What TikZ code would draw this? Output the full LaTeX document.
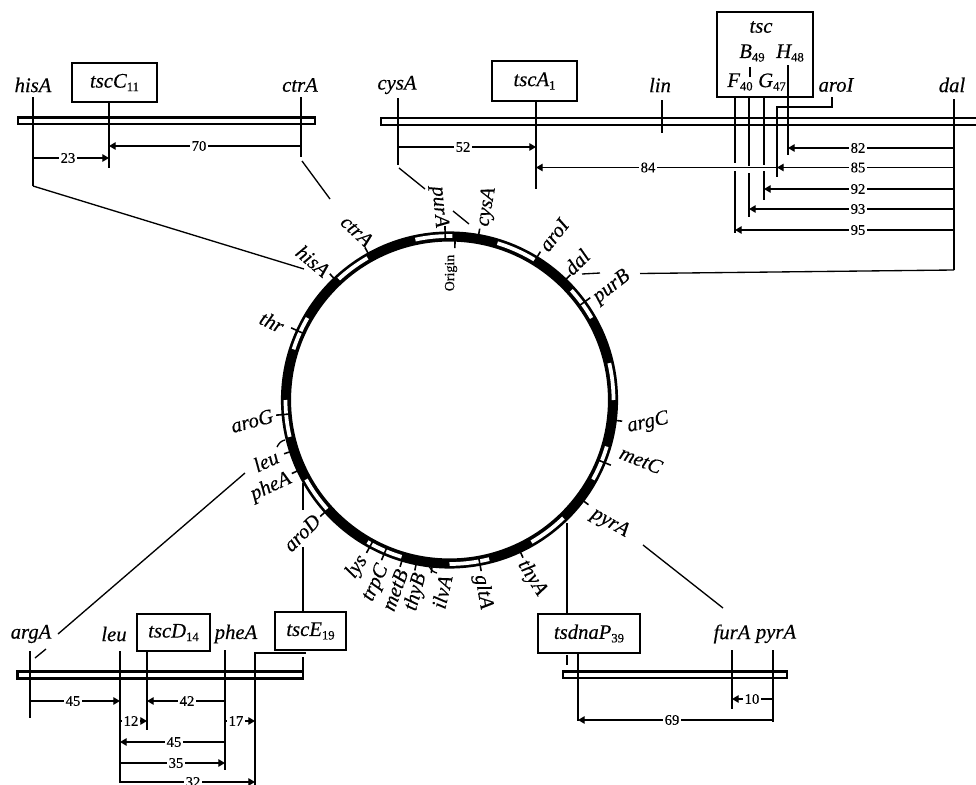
\documentclass[tikz,border=0pt]{standalone}
\usepackage{fontspec}
\setmainfont{Liberation Serif}[UprightFeatures={FakeBold=0.35},ItalicFeatures={FakeBold=0.35}]
\usetikzlibrary{arrows.meta}
\newcommand\gsub[1]{\raisebox{-2.6pt}{\fontsize{9.5}{9.5}\selectfont\upshape #1}}
\newcommand\dm[5]{\draw[dimline] (#2 |- 0,#1) -- (#3 |- 0,#1);
  \node[dimlab] (dim#1x#4) at (#4,#1) {#5};}
\newcommand\ringpt[2]{({449.5+#2*cos(#1)},{400-#2*sin(#1)})}
\tikzset{
  gn/.style={font=\fontsize{15.5}{15.5}\selectfont\itshape,inner sep=0pt},
  boxn/.style={draw,line width=1.3pt,fill=white,inner sep=0pt,font=\fontsize{15.5}{15.5}\selectfont\itshape},
  bar/.style={draw,line width=1.7pt,fill=white},
  gline/.style={line width=1.5pt},
  lead/.style={line width=1pt},
  dimline/.style={line width=0.95pt,-{Triangle[length=5pt,width=5.6pt]}},
  dimlab/.style={fill=white,inner sep=1pt,font=\fontsize{11}{11}\selectfont},
  tick/.style={line width=1.2pt}
}
\begin{document}
\begin{tikzpicture}[x=0.75pt,y=-0.75pt]
\useasboundingbox (0,0) rectangle (976,785);
\clip (0,0) rectangle (976,785);
\fill[white] (0,0) rectangle (976,785);

% ---- ring
\draw[line width=7.6pt] (449.5,400) circle[radius=163.5];
\foreach \a/\b in {89/102,58.5/73,120/132.5,150/162,30/42,0/13,-29/-16.5,-60/-46,-90/-76,-120/-107,209/222,180/193}
  \draw[white,line width=2.8pt] plot[domain=\a:\b,samples=16] ({449.5+164*cos(\x)},{400-164*sin(\x)});
% ticks through the ring
\foreach \a in {91.5,80,58.5,46,36,119,133.5,155.5,185,198,205,222,-118.5,-113,-106.5,-101.5,-96,-79.5,-65,-37,-22,-7}
  \draw[tick] \ringpt{\a}{160} -- \ringpt{\a}{174};
\draw[tick] \ringpt{88}{168} -- \ringpt{88}{152};
\draw[lead] (277,447) .. controls (279,443) and (281,441) .. (285,440);
\draw[lead] (429,566) .. controls (431,570) and (433,572) .. (437,573);

% ---- ring labels
\node[gn,rotate=-85] (lpurA) at (439,207) {purA};
\node[gn,rotate=80] (lcysA) at (487,207) {cysA};
\node[gn,rotate=52] (laroI) at (554,235) {aroI};
\node[gn,rotate=45] (ldal) at (577,262) {dal};
\node[gn,rotate=38] (lpurB) at (612,287) {purB};
\node[gn,rotate=-43] (lctrA) at (357,231) {ctrA};
\node[gn,rotate=-40] (lhisA) at (313,261) {hisA};
\node[gn,rotate=-25] (lthr) at (272,322) {thr};
\node[gn,rotate=15] (laroG) at (252,421) {aroG};
\node[gn,rotate=25] (lleu) at (266,461) {leu};
\node[gn,rotate=25] (lpheA) at (271,487) {pheA};
\node[gn,rotate=45] (laroD) at (302,533) {aroD};
\node[gn,rotate=55] (llys) at (357,567) {lys};
\node[gn,rotate=65] (ltrpC) at (376,583) {trpC};
\node[gn,rotate=70] (lmetB) at (395,590) {metB};
\node[gn,rotate=75] (lthyB) at (416,592) {thyB};
\node[gn,rotate=77] (lilvA) at (442,592) {ilvA};
\node[gn,rotate=-80] (lgltA) at (483,592) {gltA};
\node[gn,rotate=-58] (lthyA) at (532,578) {thyA};
\node[gn,rotate=-30] (lpyrA) at (610,523) {pyrA};
\node[gn,rotate=-22] (lmetC) at (641,460) {metC};
\node[gn,rotate=12] (largC) at (648,423) {argC};
\node[rotate=90,inner sep=0pt,font=\fontsize{10.5}{10.5}\selectfont] (lorigin) at (451,273) {Origin};

% ---- top-left map
\draw[bar] (18,117.5) rectangle (315,124);
\node[gn] (thisA) at (33,85) {hisA};
\node[gn] (tctrA) at (300,85) {ctrA};
\node[boxn,minimum width=63.75pt,minimum height=29.25pt] (tscC) at (114.5,82.5) {tscC\gsub{11}};
\coordinate (hisAup) at (33,97); \coordinate (hisAlow) at (33,186);
\coordinate (ctrAup) at (301,97); \coordinate (ctrAlow) at (301,157);
\coordinate (tscClow) at (109,168);
\draw[gline] (hisAup) -- (hisAlow);
\draw[gline] (ctrAup) -- (ctrAlow);
\draw[gline] (tscClow |- tscC.south) -- (tscClow);
\coordinate (hisAend) at (304,269);
\draw[lead] (hisAlow) -- (hisAend);
\coordinate (ctrAa) at (302,161); \coordinate (ctrAb) at (330,199);
\draw[lead] (ctrAa) -- (ctrAb);
\dm{146}{ctrAup}{tscClow}{199}{70}
\dm{158}{hisAup}{tscClow}{68}{23}

% ---- top-right map
\fill[white] (381,118) rectangle (985,125);
\draw[line width=1.7pt] (985,118) -- (381,118) -- (381,125) -- (985,125);
\node[gn] (tcysA) at (397,85) {cysA};
\node[gn] (tlin) at (660,85) {lin};
\node[gn] (taroI) at (836,85) {aroI};
\node[gn] (tdal) at (952,85) {dal};
\node[boxn,minimum width=63.75pt,minimum height=30pt] (tscA) at (534.5,81) {tscA\gsub{1}};
\node[boxn,minimum width=72pt,minimum height=63.75pt] (tscbox) at (765,54.5) {};
\node[gn] (tsctxt) at (761,27) {tsc};
\node[gn] (tB) at (752,53) {B\gsub{49}};
\node[gn] (tH) at (790,53) {H\gsub{48}};
\node[gn] (tF) at (740,82) {F\gsub{40}};
\node[gn] (tG) at (772,82) {G\gsub{47}};
\coordinate (cysAup) at (398,98); \coordinate (cysAlow) at (398,165);
\coordinate (tscAlow) at (536,189);
\coordinate (linup) at (662,100); \coordinate (linlow) at (662,133);
\coordinate (dalup) at (954,99); \coordinate (dallow) at (954,270);
\coordinate (Hup) at (788,65); \coordinate (Hlow) at (788,155);
\coordinate (Flow) at (735,233); \coordinate (Blow) at (749,217); \coordinate (Glow) at (764,200);
\coordinate (aroIa) at (832,97); \coordinate (aroIb) at (832,107);
\coordinate (aroIc) at (777,107); \coordinate (aroId) at (777,177);
\draw[gline] (cysAup) -- (cysAlow);
\draw[gline] (tscAlow |- tscA.south) -- (tscAlow);
\draw[gline] (linup) -- (linlow);
\draw[gline] (dalup) -- (dallow);
\draw[gline] (Hup) -- (Hlow);
\draw[gline] (aroIa) -- (aroIb) -- (aroIc) -- (aroId);
\draw[gline] (Flow |- tscbox.south) -- (Flow |- 0,163);
\draw[gline] (Flow |- 0,171) -- (Flow);
\draw[gline] (Blow |- tscbox.south) -- (Blow |- 0,166);
\draw[gline] (Blow |- 0,173) -- (Blow);
\draw[gline] (Glow |- tscbox.south) -- (Glow |- 0,165);
\draw[gline] (Glow |- 0,171) -- (Glow);
\draw[line width=1pt] (750,67) -- (750,77);
\dm{147}{cysAup}{tscAlow}{463}{52}
\dm{167.5}{aroId}{tscAlow}{648}{84}
\dm{148}{dalup}{Hlow}{858}{82}
\dm{167.5}{dalup}{aroId}{858}{85}
\dm{189}{dalup}{Glow}{858}{92}
\dm{209}{dalup}{Blow}{858}{93}
\dm{230}{dalup}{Flow}{858}{95}
\coordinate (dalb) at (640,273.5);
\draw[lead] (dallow) -- (dalb);
\coordinate (purBa) at (582,274); \coordinate (purBb) at (600,273);
\draw[lead] (purBa) -- (purBb);
\coordinate (cysa) at (399,168); \coordinate (cysb) at (425,189);
\draw[lead] (cysa) -- (cysb);
\coordinate (cysc) at (453,211); \coordinate (cysd) at (469,224);
\draw[lead] (cysc) -- (cysd);

% ---- bottom-left map
\draw[bar] (17.5,671.5) rectangle (303,678.5);
\node[gn] (bargA) at (31,634) {argA};
\node[gn] (bleu) at (114,634) {leu};
\node[gn] (bpheA) at (236,634) {pheA};
\node[boxn,minimum width=54.75pt,minimum height=27.75pt] (tscD) at (173.5,632.5) {tscD\gsub{14}};
\node[boxn,minimum width=53.25pt,minimum height=28.5pt] (tscE) at (310.5,631) {tscE\gsub{19}};
\coordinate (argup) at (30,651); \coordinate (arglow) at (30,718);
\coordinate (leuup) at (120,651); \coordinate (leulow) at (120,783);
\coordinate (tscDlow) at (147,730);
\coordinate (pheup) at (225,650); \coordinate (phelow) at (225,770);
\coordinate (Ea) at (306,653); \coordinate (Eb) at (255,653); \coordinate (Ec) at (255,790);
\draw[gline] (argup) -- (arglow);
\draw[gline] (leuup) -- (leulow);
\draw[gline] (tscDlow |- tscD.south) -- (tscDlow);
\draw[gline] (pheup) -- (phelow);
\draw[gline] (Ea) -- (Eb) -- (Ec);
\coordinate (Ed) at (303,657); \coordinate (Ee) at (303,671);
\draw[lead] (Ed) -- (Ee);
\coordinate (ro1) at (303,483); \coordinate (ro2) at (303,510); \coordinate (ro3) at (303,547);
\draw[lead] (ro1) -- (ro2);
\draw[lead] (ro3) -- (ro3 |- tscE.north);
\coordinate (ar1) at (35,658); \coordinate (ar2) at (46,649);
\coordinate (ar3) at (58,634); \coordinate (ar4) at (245,473);
\draw[lead] (ar1) -- (ar2);
\draw[lead] (ar3) -- (ar4);
\dm{701}{argup}{leuup}{73}{45}
\dm{701}{pheup}{tscDlow}{187}{42}
\dm{721}{leuup}{tscDlow}{131}{12}
\dm{721}{pheup}{Eb}{236}{17}
\dm{742}{pheup}{leuup}{174}{45}
\dm{763}{leuup}{pheup}{176}{35}
\dm{782}{leuup}{Eb}{193}{32}

% ---- bottom-right map
\draw[bar] (563,671.5) rectangle (787,678);
\node[gn] (bfurA) at (732,634) {furA};
\node[gn] (bpyrA) at (776,634) {pyrA};
\node[boxn,minimum width=76.5pt,minimum height=29.25pt] (tsdna) at (589,633.5) {tsdnaP\gsub{39}};
\coordinate (furup) at (732,650); \coordinate (furlow) at (732,709);
\coordinate (pyrup) at (773,650); \coordinate (pyrlow) at (773,722);
\coordinate (tslow) at (578,721);
\draw[gline] (furup) -- (furlow);
\draw[gline] (pyrup) -- (pyrlow);
\draw[gline] (tslow |- tsdna.south) -- (tslow);
\coordinate (py1) at (567,523); \coordinate (py2) at (567,655); \coordinate (py3) at (567,665);
\draw[lead] (py1) -- (py1 |- tsdna.north);
\draw[lead] (py2) -- (py3);
\coordinate (pr1) at (643,545); \coordinate (pr2) at (723,608);
\draw[lead] (pr1) -- (pr2);
\dm{699}{pyrup}{furup}{752}{10}
\dm{720}{pyrup}{tslow}{672}{69}
\end{tikzpicture}
\end{document}
